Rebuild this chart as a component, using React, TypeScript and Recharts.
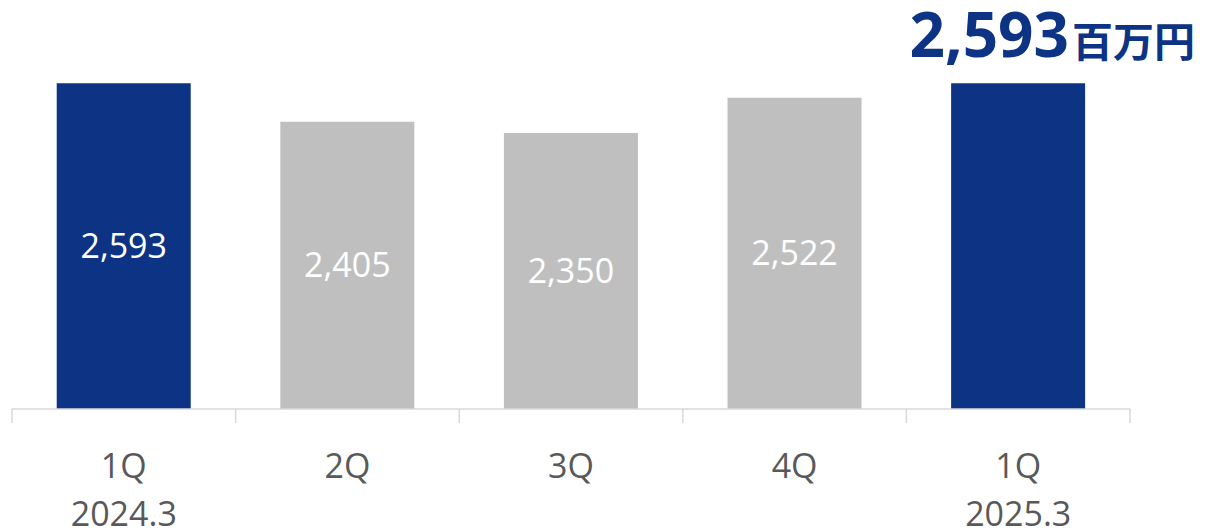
import { BarChart, Bar, XAxis, YAxis, Cell, LabelList } from 'recharts';

const quarters = ['1Q', '2Q', '3Q', '4Q', '1Q'];
const fiscalYears = ['2024.3', '', '', '', '2025.3'];
const sales = [2593, 2405, 2350, 2522, 2593];
const highlighted = [true, false, false, false, true];
// the latest quarter's value is shown as the headline instead of inside its bar
const showInside = [true, true, true, true, false];

const WIDTH = 1205;
const HEIGHT = 528;
const MARGIN = { top: 0, right: 75, bottom: 0, left: 12 };
const BAND = (WIDTH - MARGIN.left - MARGIN.right) / quarters.length;

const BLUE = '#0c3384';
const GRAY = '#bfbfbf';
const TEXT_GRAY = '#595959';
const AXIS_GRAY = '#d9d9d9';
const FONT = '"Open Sans", "Noto Sans", sans-serif';

const data = quarters.map((q, i) => ({
  key: `${q}-${i}`,
  quarter: q,
  year: fiscalYears[i],
  value: sales[i],
  highlight: highlighted[i],
  label: showInside[i] ? sales[i].toLocaleString('en-US') : '',
}));

function QuarterTick(props: any) {
  const { x, y, index } = props;
  const row = data[index];
  const left = x - BAND / 2;
  return (
    <g>
      <line x1={left} y1={y} x2={left} y2={y + 14} stroke={AXIS_GRAY} strokeWidth={1.5} />
      {index === data.length - 1 && (
        <line x1={x + BAND / 2} y1={y} x2={x + BAND / 2} y2={y + 14} stroke={AXIS_GRAY} strokeWidth={1.5} />
      )}
      <text x={x} y={y + 69} textAnchor="middle" fontSize={34} fill={TEXT_GRAY} fontFamily={FONT}>
        {row?.quarter}
      </text>
      {row?.year && (
        <text x={x} y={y + 117} textAnchor="middle" fontSize={34} fill={TEXT_GRAY} fontFamily={FONT}>
          {row.year}
        </text>
      )}
    </g>
  );
}

export default function App() {
  return (
    <div style={{ position: 'absolute', left: 0, top: 0, width: WIDTH, height: HEIGHT, background: '#fff' }}>
      <BarChart width={WIDTH} height={HEIGHT} data={data} margin={MARGIN} barCategoryGap="20%">
        <XAxis
          dataKey="key"
          height={119}
          interval={0}
          tickLine={false}
          tickSize={0}
          tickMargin={0}
          axisLine={{ stroke: AXIS_GRAY, strokeWidth: 1.5 }}
          tick={<QuarterTick />}
        />
        <YAxis hide domain={[1000, 3000]} allowDataOverflow />
        <Bar dataKey="value" isAnimationActive={false}>
          {data.map((d) => (
            <Cell key={d.key} fill={d.highlight ? BLUE : GRAY} />
          ))}
          <LabelList
            dataKey="label"
            position="center"
            style={{ fill: '#ffffff', fontSize: 34, fontFamily: FONT }}
          />
        </Bar>
      </BarChart>
      <div
        style={{
          position: 'absolute',
          right: 10,
          top: 2,
          color: BLUE,
          fontWeight: 700,
          whiteSpace: 'nowrap',
          lineHeight: 1,
        }}
      >
        <span style={{ fontSize: 62, fontFamily: FONT }}>2,593</span>
        <span style={{ fontSize: 41, fontFamily: '"Noto Sans CJK JP", sans-serif', marginLeft: 3 }}>百万円</span>
      </div>
    </div>
  );
}
